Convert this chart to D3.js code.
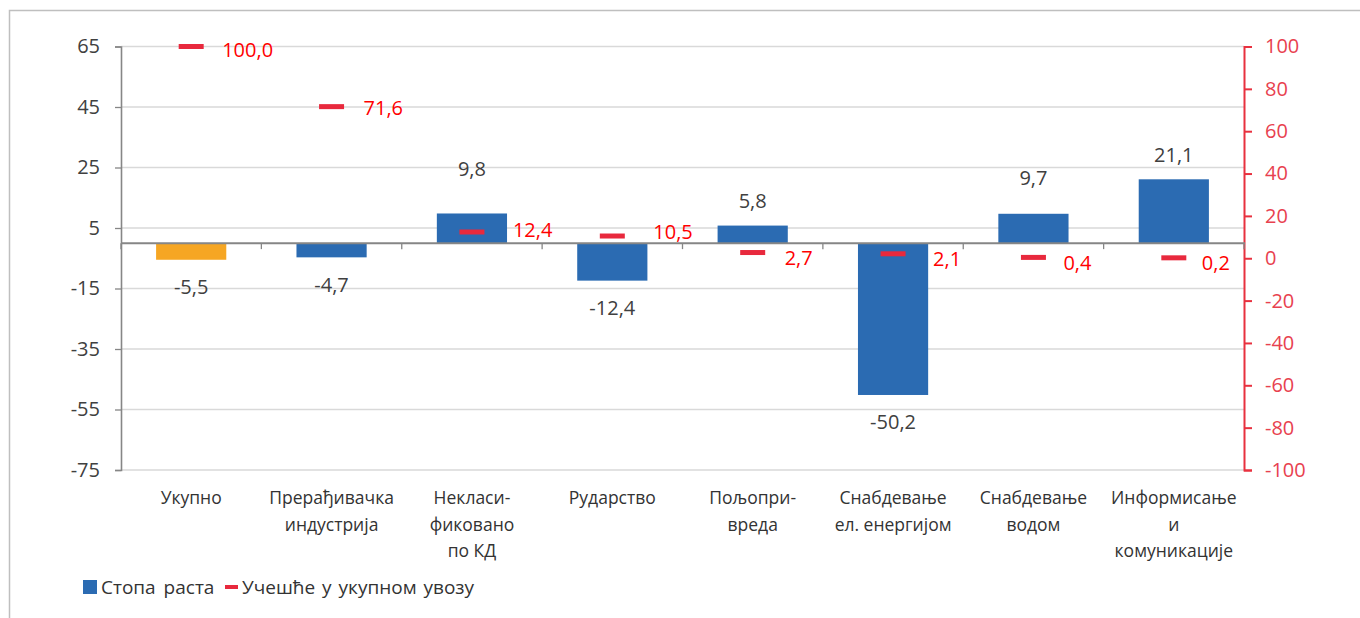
<!DOCTYPE html>
<html>
<head>
<meta charset="utf-8">
<script src="https://cdn.jsdelivr.net/npm/d3@7"></script>
<style>
  html, body { margin: 0; padding: 0; background: #ffffff; }
  svg { display: block; font-family: "Open Sans", "Noto Sans", sans-serif; }
</style>
</head>
<body>
<svg id="chart" width="1360" height="618"></svg>
<script>
// ---- data ----
const categories = [
  ["Укупно"],
  ["Прерађивачка", "индустрија"],
  ["Некласи-", "фиковано", "по КД"],
  ["Рударство"],
  ["Пољопри-", "вреда"],
  ["Снабдевање", "ел. енергијом"],
  ["Снабдевање", "водом"],
  ["Информисање", "и", "комуникације"]
];
const growthRate = [-5.5, -4.7, 9.8, -12.4, 5.8, -50.2, 9.7, 21.1];
const importShare = [100.0, 71.6, 12.4, 10.5, 2.7, 2.1, 0.4, 0.2];
const leftTicks = [65, 45, 25, 5, -15, -35, -55, -75];
const rightTicks = [100, 80, 60, 40, 20, 0, -20, -40, -60, -80, -100];
const seriesNames = ["Стопа раста", "Учешће у укупном увозу"];

// ---- layout (manual label nudges as in the original) ----
const barLabelExtra = [0, 0, 20, 0, 0, 0, 11, 0];
const shareLabelDx = [31, 32, 41, 41, 32, 40, 30, 28];
const shareLabelDy = [3, 1, -2, -5, 5, 5, 5, 5];

(function () {
const svg = d3.select("#chart");
const fmt = v => v.toFixed(1).replace(".", ",");

const pL = 121, pR = 1244, pT = 46.5, pB = 470;
const keys = categories.map((c, i) => i);
const x = d3.scaleBand().domain(keys).range([pL, pR]).padding(0);
const yL = d3.scaleLinear().domain([-75, 65]).range([pB, pT]);
const yR = d3.scaleLinear().domain([-100, 100]).range([pB, pT]);
const bw = x.bandwidth();

// frame
svg.append("rect").attr("x", 9.5).attr("y", 10.5).attr("width", 1400).attr("height", 700)
  .attr("fill", "none").attr("stroke", "#bfbfbf").attr("stroke-width", 1.5);

// gridlines
svg.append("g").selectAll("line").data(leftTicks).join("line")
  .attr("x1", pL).attr("x2", pR)
  .attr("y1", d => yL(d)).attr("y2", d => yL(d))
  .attr("stroke", "#d9d9d9").attr("stroke-width", 1.6);

// left axis
const axL = svg.append("g").attr("transform", `translate(${pL},0)`)
  .call(d3.axisLeft(yL).tickValues(leftTicks).tickSize(6).tickPadding(15).tickFormat(d => String(d)));
axL.select(".domain").attr("stroke", "#868686").attr("stroke-width", 1.6);
axL.selectAll(".tick line").attr("stroke", "#868686").attr("stroke-width", 1.3);
axL.selectAll(".tick text").attr("fill", "#404040").style("font-size", "20px")
  .style("font-family", "'Open Sans', sans-serif");

// right axis
const axR = svg.append("g").attr("transform", `translate(${pR},0)`)
  .call(d3.axisRight(yR).tickValues(rightTicks).tickSize(8).tickPadding(13).tickFormat(d => String(d)));
axR.select(".domain").attr("stroke", "#e8313f").attr("stroke-width", 2);
axR.selectAll(".tick line").attr("stroke", "#e8313f").attr("stroke-width", 2);
axR.selectAll(".tick text").attr("fill", "#e8414f").style("font-size", "20px")
  .style("font-family", "'Open Sans', sans-serif");

// bars
svg.append("g").selectAll("rect").data(growthRate).join("rect")
  .attr("x", (d, i) => x(i) + bw / 4)
  .attr("width", bw / 2)
  .attr("y", d => Math.min(yL(d), yL(0)))
  .attr("height", d => Math.abs(yL(d) - yL(0)))
  .attr("fill", (d, i) => i === 0 ? "#f6a623" : "#2b6bb2");

// zero line
svg.append("line").attr("x1", pL).attr("x2", pR + 1)
  .attr("y1", yL(0)).attr("y2", yL(0))
  .attr("stroke", "#868686").attr("stroke-width", 2);

// category ticks on zero line
svg.append("g").selectAll("line").data(d3.range(categories.length + 1)).join("line")
  .attr("x1", i => pL + i * bw).attr("x2", i => pL + i * bw)
  .attr("y1", yL(0)).attr("y2", yL(0) + 6)
  .attr("stroke", "#868686").attr("stroke-width", 1.3);

// bar labels
svg.append("g").selectAll("text").data(growthRate).join("text")
  .attr("x", (d, i) => x(i) + bw / 2)
  .attr("y", (d, i) => d >= 0 ? yL(d) - 25 - barLabelExtra[i] : yL(d) + 27)
  .attr("text-anchor", "middle").attr("dominant-baseline", "central")
  .attr("fill", "#404040").style("font-size", "20px")
  .text(d => fmt(d));

// share markers
svg.append("g").selectAll("rect").data(importShare).join("rect")
  .attr("x", (d, i) => x(i) + bw / 2 - 12.5)
  .attr("y", d => yR(d) - 2.5)
  .attr("width", 25).attr("height", 5)
  .attr("fill", "#e8293d");

// share labels
svg.append("g").selectAll("text").data(importShare).join("text")
  .attr("x", (d, i) => x(i) + bw / 2 + shareLabelDx[i])
  .attr("y", (d, i) => yR(d) + shareLabelDy[i])
  .attr("dominant-baseline", "central")
  .attr("fill", "#ff0000").style("font-size", "20px")
  .text(d => fmt(d));

// category labels
const cl = svg.append("g").selectAll("text").data(categories).join("text")
  .attr("text-anchor", "middle").attr("fill", "#333333").style("font-size", "17.5px");
cl.each(function (lines, i) {
  d3.select(this).selectAll("tspan").data(lines).join("tspan")
    .attr("x", x(i) + bw / 2)
    .attr("y", (l, j) => 497 + j * 26.5)
    .attr("dominant-baseline", "central")
    .text(l => l);
});

// legend
const lg = svg.append("g");
lg.append("rect").attr("x", 83).attr("y", 580).attr("width", 14).attr("height", 14).attr("fill", "#2b6bb2");
lg.append("text").attr("x", 101).attr("y", 587).attr("dominant-baseline", "central")
  .attr("fill", "#333333").style("font-size", "19px").style("word-spacing", "3px").text(seriesNames[0]);
lg.append("rect").attr("x", 225).attr("y", 585).attr("width", 13).attr("height", 4).attr("fill", "#e8293d");
lg.append("text").attr("x", 242).attr("y", 587).attr("dominant-baseline", "central")
  .attr("fill", "#333333").style("font-size", "19px").style("word-spacing", "2px").text(seriesNames[1]);
})();
</script>
</body>
</html>
